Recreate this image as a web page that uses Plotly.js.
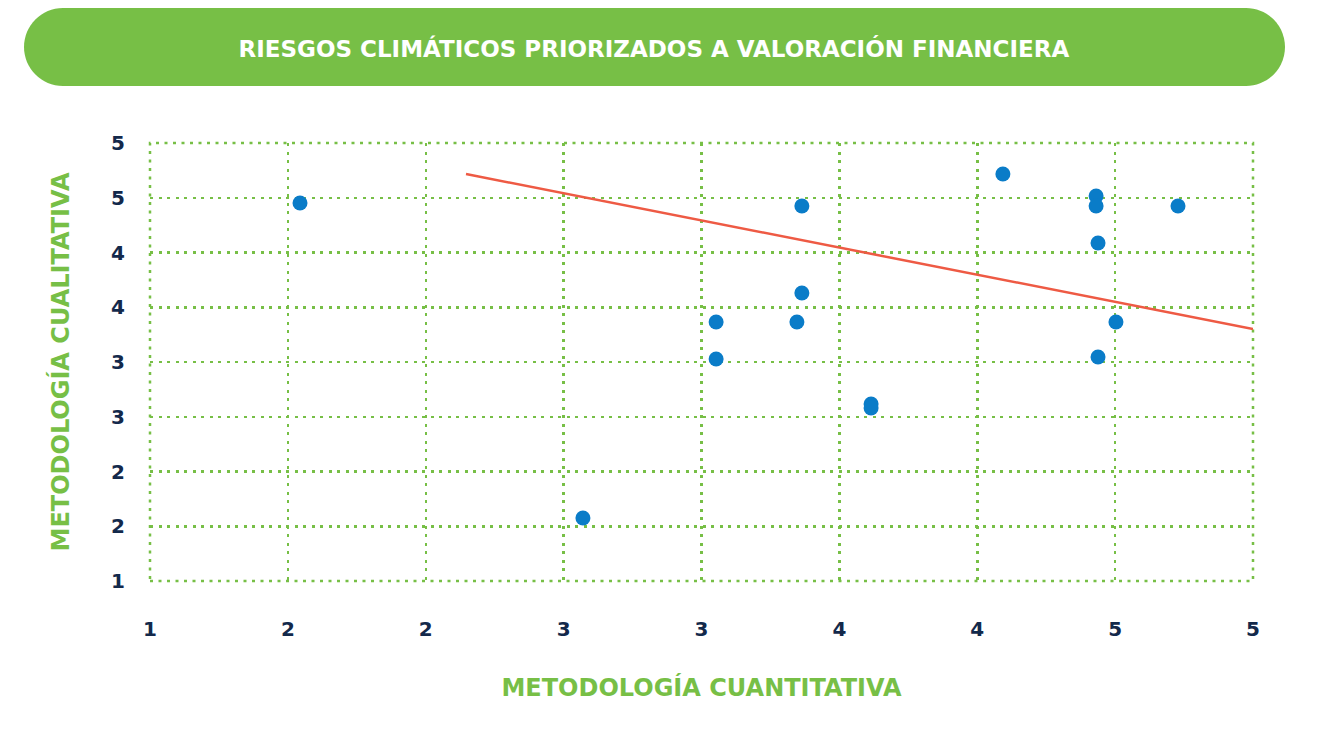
<!DOCTYPE html>
<html>
<head>
<meta charset="utf-8">
<script src="https://cdn.plot.ly/plotly-3.0.1.min.js"></script>
<style>
  html, body { margin: 0; padding: 0; background: #ffffff; }
  #chart { width: 1329px; height: 729px; }
</style>
</head>
<body>
<div id="chart"></div>
<script>
// ---------- Data ---------- //
const cuantitativa = [1.544, 2.570, 3.053, 3.053, 3.346, 3.364, 3.364, 3.615, 3.615, 4.093, 4.431, 4.431, 4.438, 4.503, 4.438, 4.728];
const cualitativa  = [4.452, 1.575, 3.365, 3.027, 3.365, 3.630, 4.425, 2.616, 2.580, 4.717, 4.516, 4.425, 4.087, 3.365, 3.046, 4.425];

const trendX = [2.146, 5.0];
const trendY = [4.717, 3.301];

const tickVals = [1, 1.5, 2, 2.5, 3, 3.5, 4, 4.5, 5];
const tickText = ['1', '2', '2', '3', '3', '4', '4', '5', '5'];

const chartTitle = 'RIESGOS CLIMÁTICOS PRIORIZADOS A VALORACIÓN FINANCIERA';
const xTitle = 'METODOLOGÍA CUANTITATIVA';
const yTitle = 'METODOLOGÍA CUALITATIVA';
// ---------- End of Data ---------- //

const W = 1329, H = 729;
const M = { l: 150, r: 76, t: 143, b: 148 };
const green = '#77bf46';
const navy = '#13294b';
const font = '"DejaVu Sans", sans-serif';
const dots = '3px,5.5px';

// rounded banner path, built in pixels then mapped to paper coords
function bannerPath(x0, y0, x1, y1, r) {
    const pw = W - M.l - M.r, ph = H - M.t - M.b;
    const px = v => ((v - M.l) / pw).toFixed(5);
    const py = v => ((H - M.b - v) / ph).toFixed(5);
    const k = r * 0.5523;
    return `M${px(x0 + r)},${py(y0)} L${px(x1 - r)},${py(y0)} ` +
        `C${px(x1 - r + k)},${py(y0)} ${px(x1)},${py(y0 + r - k)} ${px(x1)},${py(y0 + r)} ` +
        `C${px(x1)},${py(y1 - r + k)} ${px(x1 - r + k)},${py(y1)} ${px(x1 - r)},${py(y1)} ` +
        `L${px(x0 + r)},${py(y1)} ` +
        `C${px(x0 + r - k)},${py(y1)} ${px(x0)},${py(y1 - r + k)} ${px(x0)},${py(y1 - r)} ` +
        `C${px(x0)},${py(y0 + r - k)} ${px(x0 + r - k)},${py(y0)} ${px(x0 + r)},${py(y0)} Z`;
}

const points = {
    x: cuantitativa,
    y: cualitativa,
    type: 'scatter',
    mode: 'markers',
    marker: { color: '#0a7cc8', size: 15 },
    hoverinfo: 'x+y',
    showlegend: false,
};

const trend = {
    x: trendX,
    y: trendY,
    type: 'scatter',
    mode: 'lines',
    line: { color: '#ee5a44', width: 2.5 },
    hoverinfo: 'skip',
    showlegend: false,
};

const axisCommon = {
    range: [1, 5],
    tickvals: tickVals,
    ticktext: tickText,
    showgrid: true,
    gridcolor: green,
    gridwidth: 2.5,
    griddash: dots,
    zeroline: false,
    showline: false,
    ticks: '',
    fixedrange: true,
    automargin: false,
    tickfont: { family: font, size: 20, color: navy, weight: 700 },
};

const layout = {
    width: W,
    height: H,
    margin: M,
    paper_bgcolor: '#ffffff',
    plot_bgcolor: '#ffffff',
    title: {
        text: chartTitle,
        font: { family: font, size: 23, color: '#ffffff', weight: 700 },
        x: 0.492, xanchor: 'center',
        y: 1 - 49 / H, yanchor: 'middle',
    },
    xaxis: Object.assign({}, axisCommon, {
        ticklabelstandoff: 34,
        title: { text: xTitle, standoff: 39, font: { family: font, size: 24, color: green, weight: 700 } },
    }),
    yaxis: Object.assign({}, axisCommon, {
        ticklabelstandoff: 24,
        title: { text: yTitle, standoff: 34, font: { family: font, size: 24, color: green, weight: 700 } },
    }),
    shapes: [{
        type: 'path',
        xref: 'paper', yref: 'paper',
        path: bannerPath(24, 8, 1285, 86, 39),
        fillcolor: green,
        line: { width: 0 },
        layer: 'below',
    }, {
        // dotted frame round the plot area
        type: 'rect',
        xref: 'paper', yref: 'paper',
        x0: 0, x1: 1, y0: 0, y1: 1,
        line: { color: green, width: 2.5, dash: dots },
        layer: 'below',
    }],
};

Plotly.newPlot('chart', [trend, points], layout, { displayModeBar: false, staticPlot: true });
</script>
</body>
</html>
